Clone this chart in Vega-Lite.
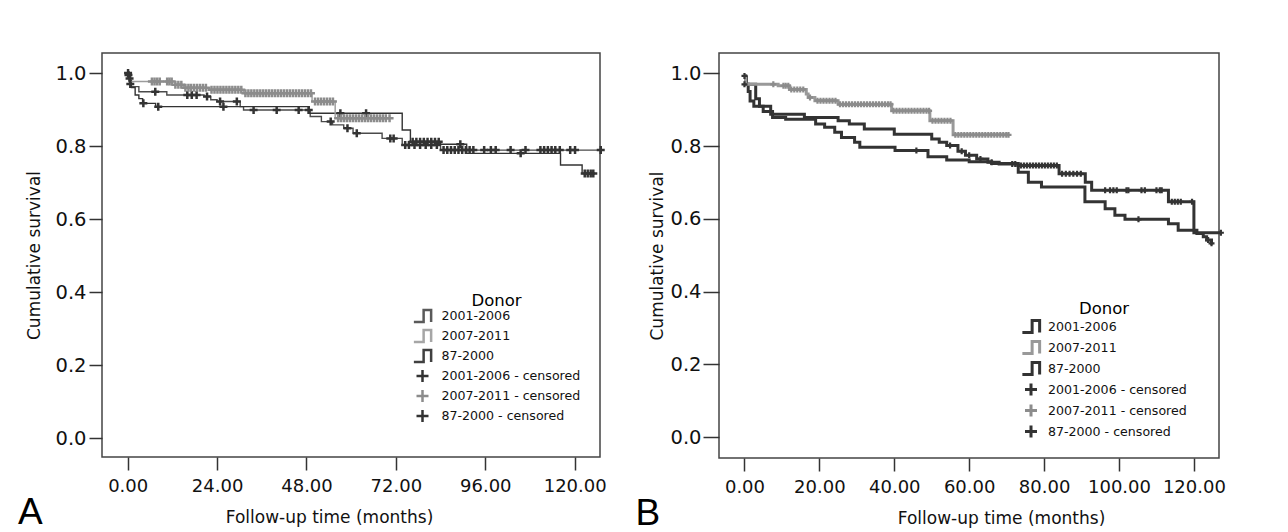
{
  "$schema": "https://vega.github.io/schema/vega-lite/v6.json",
  "background": "white",
  "autosize": {"type": "pad"},
  "padding": {"left": 17, "top": 52, "right": 0, "bottom": 0},
  "spacing": 23,
  "resolve": {"scale": {"color": "independent", "shape": "independent", "stroke": "independent", "x": "independent", "y": "independent"}, "legend": {"color": "independent", "shape": "independent"}},
  "config": {
    "view": {"stroke": "#444444", "strokeWidth": 1.5},
    "axis": {"grid": false, "domain": false, "tickColor": "#333333", "tickWidth": 1.5, "labelFont": "DejaVu Sans", "labelFontSize": 18, "labelColor": "#111111", "titleFont": "DejaVu Sans", "titleFontSize": 17, "titleFontWeight": "normal", "titleColor": "#111111", "labelFlush": false, "labelOverlap": false},
    "axisY": {"labelFontSize": 19.5},
    "legend": {"labelFont": "DejaVu Sans", "labelFontSize": 12.6, "labelColor": "#111111", "titleFont": "DejaVu Sans", "titleFontSize": 16.5, "titleFontWeight": "normal", "titleColor": "#000000", "titleAnchor": "middle", "padding": 0}
  },
  "datasets": {
    "lineA": [
      {"g": "2001-2006", "t": 0, "s": 1}, {"g": "2001-2006", "t": 0.8, "s": 0.963}, {"g": "2001-2006", "t": 3, "s": 0.949}, {"g": "2001-2006", "t": 10.5, "s": 0.94}, {"g": "2001-2006", "t": 20.5, "s": 0.936}, {"g": "2001-2006", "t": 22.3, "s": 0.927}, {"g": "2001-2006", "t": 24, "s": 0.922}, {"g": "2001-2006", "t": 30.2, "s": 0.908}, {"g": "2001-2006", "t": 31.1, "s": 0.899}, {"g": "2001-2006", "t": 49, "s": 0.881}, {"g": "2001-2006", "t": 52, "s": 0.867}, {"g": "2001-2006", "t": 55, "s": 0.858}, {"g": "2001-2006", "t": 58, "s": 0.849}, {"g": "2001-2006", "t": 60.5, "s": 0.835}, {"g": "2001-2006", "t": 68.3, "s": 0.821}, {"g": "2001-2006", "t": 73.7, "s": 0.803}, {"g": "2001-2006", "t": 84, "s": 0.789}, {"g": "2001-2006", "t": 127, "s": 0.789},
      {"g": "87-2000", "t": 0, "s": 1}, {"g": "87-2000", "t": 0.4, "s": 0.98}, {"g": "87-2000", "t": 1, "s": 0.96}, {"g": "87-2000", "t": 2, "s": 0.94}, {"g": "87-2000", "t": 3, "s": 0.93}, {"g": "87-2000", "t": 4, "s": 0.917}, {"g": "87-2000", "t": 7.5, "s": 0.908}, {"g": "87-2000", "t": 48.5, "s": 0.89}, {"g": "87-2000", "t": 73.7, "s": 0.844}, {"g": "87-2000", "t": 75.9, "s": 0.812}, {"g": "87-2000", "t": 84, "s": 0.805}, {"g": "87-2000", "t": 91, "s": 0.78}, {"g": "87-2000", "t": 116.2, "s": 0.748}, {"g": "87-2000", "t": 122, "s": 0.725}, {"g": "87-2000", "t": 125, "s": 0.725},
      {"g": "2007-2011", "t": 0, "s": 1}, {"g": "2007-2011", "t": 0.5, "s": 0.977}, {"g": "2007-2011", "t": 12, "s": 0.968}, {"g": "2007-2011", "t": 15, "s": 0.96}, {"g": "2007-2011", "t": 22, "s": 0.954}, {"g": "2007-2011", "t": 31.1, "s": 0.945}, {"g": "2007-2011", "t": 49.5, "s": 0.922}, {"g": "2007-2011", "t": 55.7, "s": 0.876}, {"g": "2007-2011", "t": 70.5, "s": 0.876}
    ],
    "censA": [
      {"k": "2001-2006 - censored", "t": 0.2, "s": 0.995}, {"k": "2001-2006 - censored", "t": 0.5, "s": 0.985}, {"k": "2001-2006 - censored", "t": 7.4, "s": 0.949}, {"k": "2001-2006 - censored", "t": 16, "s": 0.94}, {"k": "2001-2006 - censored", "t": 17.2, "s": 0.94}, {"k": "2001-2006 - censored", "t": 18.5, "s": 0.94}, {"k": "2001-2006 - censored", "t": 21.3, "s": 0.936}, {"k": "2001-2006 - censored", "t": 24.8, "s": 0.922}, {"k": "2001-2006 - censored", "t": 29.3, "s": 0.922}, {"k": "2001-2006 - censored", "t": 33.8, "s": 0.899}, {"k": "2001-2006 - censored", "t": 40, "s": 0.899}, {"k": "2001-2006 - censored", "t": 45.9, "s": 0.899}, {"k": "2001-2006 - censored", "t": 48.6, "s": 0.899}, {"k": "2001-2006 - censored", "t": 54.5, "s": 0.867}, {"k": "2001-2006 - censored", "t": 59, "s": 0.849}, {"k": "2001-2006 - censored", "t": 61.5, "s": 0.835}, {"k": "2001-2006 - censored", "t": 70.5, "s": 0.821}, {"k": "2001-2006 - censored", "t": 71.4, "s": 0.821}, {"k": "2001-2006 - censored", "t": 74.5, "s": 0.803}, {"k": "2001-2006 - censored", "t": 75.5, "s": 0.803}, {"k": "2001-2006 - censored", "t": 77, "s": 0.803}, {"k": "2001-2006 - censored", "t": 78.5, "s": 0.803}, {"k": "2001-2006 - censored", "t": 80, "s": 0.803}, {"k": "2001-2006 - censored", "t": 81.5, "s": 0.803}, {"k": "2001-2006 - censored", "t": 83, "s": 0.803}, {"k": "2001-2006 - censored", "t": 84.8, "s": 0.789}, {"k": "2001-2006 - censored", "t": 85.8, "s": 0.789}, {"k": "2001-2006 - censored", "t": 86.8, "s": 0.789}, {"k": "2001-2006 - censored", "t": 87.8, "s": 0.789}, {"k": "2001-2006 - censored", "t": 88.8, "s": 0.789}, {"k": "2001-2006 - censored", "t": 89.8, "s": 0.789}, {"k": "2001-2006 - censored", "t": 90.8, "s": 0.789}, {"k": "2001-2006 - censored", "t": 91.8, "s": 0.789}, {"k": "2001-2006 - censored", "t": 92.8, "s": 0.789}, {"k": "2001-2006 - censored", "t": 95.7, "s": 0.789}, {"k": "2001-2006 - censored", "t": 97.5, "s": 0.789}, {"k": "2001-2006 - censored", "t": 98.8, "s": 0.789}, {"k": "2001-2006 - censored", "t": 102.8, "s": 0.789}, {"k": "2001-2006 - censored", "t": 106.8, "s": 0.789}, {"k": "2001-2006 - censored", "t": 110.8, "s": 0.789}, {"k": "2001-2006 - censored", "t": 111.8, "s": 0.789}, {"k": "2001-2006 - censored", "t": 112.8, "s": 0.789}, {"k": "2001-2006 - censored", "t": 113.8, "s": 0.789}, {"k": "2001-2006 - censored", "t": 114.8, "s": 0.789}, {"k": "2001-2006 - censored", "t": 116, "s": 0.789}, {"k": "2001-2006 - censored", "t": 118.8, "s": 0.789}, {"k": "2001-2006 - censored", "t": 120.1, "s": 0.789}, {"k": "2001-2006 - censored", "t": 127, "s": 0.789},
      {"k": "87-2000 - censored", "t": 0.1, "s": 1}, {"k": "87-2000 - censored", "t": 0.7, "s": 0.97}, {"k": "87-2000 - censored", "t": 4.2, "s": 0.917}, {"k": "87-2000 - censored", "t": 8.2, "s": 0.908}, {"k": "87-2000 - censored", "t": 25.7, "s": 0.908}, {"k": "87-2000 - censored", "t": 57.1, "s": 0.89}, {"k": "87-2000 - censored", "t": 64, "s": 0.89}, {"k": "87-2000 - censored", "t": 76.5, "s": 0.812}, {"k": "87-2000 - censored", "t": 77.5, "s": 0.812}, {"k": "87-2000 - censored", "t": 78.5, "s": 0.812}, {"k": "87-2000 - censored", "t": 79.5, "s": 0.812}, {"k": "87-2000 - censored", "t": 80.5, "s": 0.812}, {"k": "87-2000 - censored", "t": 81.5, "s": 0.812}, {"k": "87-2000 - censored", "t": 82.5, "s": 0.812}, {"k": "87-2000 - censored", "t": 83.5, "s": 0.812}, {"k": "87-2000 - censored", "t": 89.3, "s": 0.805}, {"k": "87-2000 - censored", "t": 105.5, "s": 0.78}, {"k": "87-2000 - censored", "t": 122.7, "s": 0.725}, {"k": "87-2000 - censored", "t": 123.5, "s": 0.725}, {"k": "87-2000 - censored", "t": 124.3, "s": 0.725}, {"k": "87-2000 - censored", "t": 125, "s": 0.725},
      {"k": "2007-2011 - censored", "t": 6.5, "s": 0.977}, {"k": "2007-2011 - censored", "t": 7.2, "s": 0.977}, {"k": "2007-2011 - censored", "t": 7.9, "s": 0.977}, {"k": "2007-2011 - censored", "t": 8.6, "s": 0.977}, {"k": "2007-2011 - censored", "t": 10.6, "s": 0.977}, {"k": "2007-2011 - censored", "t": 11.2, "s": 0.977}, {"k": "2007-2011 - censored", "t": 11.8, "s": 0.977}, {"k": "2007-2011 - censored", "t": 12.8, "s": 0.968}, {"k": "2007-2011 - censored", "t": 13.6, "s": 0.968}, {"k": "2007-2011 - censored", "t": 14.4, "s": 0.968}, {"k": "2007-2011 - censored", "t": 15.5, "s": 0.96}, {"k": "2007-2011 - censored", "t": 16.3, "s": 0.96}, {"k": "2007-2011 - censored", "t": 17, "s": 0.96}, {"k": "2007-2011 - censored", "t": 17.8, "s": 0.96}, {"k": "2007-2011 - censored", "t": 18.6, "s": 0.96}, {"k": "2007-2011 - censored", "t": 19.4, "s": 0.96}, {"k": "2007-2011 - censored", "t": 20.2, "s": 0.96}, {"k": "2007-2011 - censored", "t": 21, "s": 0.96}, {"k": "2007-2011 - censored", "t": 22.5, "s": 0.954}, {"k": "2007-2011 - censored", "t": 23.3, "s": 0.954}, {"k": "2007-2011 - censored", "t": 24.1, "s": 0.954}, {"k": "2007-2011 - censored", "t": 24.9, "s": 0.954}, {"k": "2007-2011 - censored", "t": 25.7, "s": 0.954}, {"k": "2007-2011 - censored", "t": 26.5, "s": 0.954}, {"k": "2007-2011 - censored", "t": 27.3, "s": 0.954}, {"k": "2007-2011 - censored", "t": 28.1, "s": 0.954}, {"k": "2007-2011 - censored", "t": 28.9, "s": 0.954}, {"k": "2007-2011 - censored", "t": 29.7, "s": 0.954}, {"k": "2007-2011 - censored", "t": 30.5, "s": 0.954}, {"k": "2007-2011 - censored", "t": 31.6, "s": 0.945}, {"k": "2007-2011 - censored", "t": 32.4, "s": 0.945}, {"k": "2007-2011 - censored", "t": 33.2, "s": 0.945}, {"k": "2007-2011 - censored", "t": 34, "s": 0.945}, {"k": "2007-2011 - censored", "t": 34.8, "s": 0.945}, {"k": "2007-2011 - censored", "t": 35.6, "s": 0.945}, {"k": "2007-2011 - censored", "t": 36.4, "s": 0.945}, {"k": "2007-2011 - censored", "t": 37.2, "s": 0.945}, {"k": "2007-2011 - censored", "t": 38, "s": 0.945}, {"k": "2007-2011 - censored", "t": 38.8, "s": 0.945}, {"k": "2007-2011 - censored", "t": 39.6, "s": 0.945}, {"k": "2007-2011 - censored", "t": 40.4, "s": 0.945}, {"k": "2007-2011 - censored", "t": 41.2, "s": 0.945}, {"k": "2007-2011 - censored", "t": 42, "s": 0.945}, {"k": "2007-2011 - censored", "t": 42.8, "s": 0.945}, {"k": "2007-2011 - censored", "t": 43.6, "s": 0.945}, {"k": "2007-2011 - censored", "t": 44.4, "s": 0.945}, {"k": "2007-2011 - censored", "t": 45.2, "s": 0.945}, {"k": "2007-2011 - censored", "t": 46, "s": 0.945}, {"k": "2007-2011 - censored", "t": 46.8, "s": 0.945}, {"k": "2007-2011 - censored", "t": 47.6, "s": 0.945}, {"k": "2007-2011 - censored", "t": 48.4, "s": 0.945}, {"k": "2007-2011 - censored", "t": 49.2, "s": 0.945}, {"k": "2007-2011 - censored", "t": 50.3, "s": 0.922}, {"k": "2007-2011 - censored", "t": 51.1, "s": 0.922}, {"k": "2007-2011 - censored", "t": 51.9, "s": 0.922}, {"k": "2007-2011 - censored", "t": 52.7, "s": 0.922}, {"k": "2007-2011 - censored", "t": 53.5, "s": 0.922}, {"k": "2007-2011 - censored", "t": 54.3, "s": 0.922}, {"k": "2007-2011 - censored", "t": 55.1, "s": 0.922}, {"k": "2007-2011 - censored", "t": 56.5, "s": 0.876}, {"k": "2007-2011 - censored", "t": 57.3, "s": 0.876}, {"k": "2007-2011 - censored", "t": 58.1, "s": 0.876}, {"k": "2007-2011 - censored", "t": 58.9, "s": 0.876}, {"k": "2007-2011 - censored", "t": 59.7, "s": 0.876}, {"k": "2007-2011 - censored", "t": 60.5, "s": 0.876}, {"k": "2007-2011 - censored", "t": 61.3, "s": 0.876}, {"k": "2007-2011 - censored", "t": 62.1, "s": 0.876}, {"k": "2007-2011 - censored", "t": 62.9, "s": 0.876}, {"k": "2007-2011 - censored", "t": 63.7, "s": 0.876}, {"k": "2007-2011 - censored", "t": 64.5, "s": 0.876}, {"k": "2007-2011 - censored", "t": 65.3, "s": 0.876}, {"k": "2007-2011 - censored", "t": 66.1, "s": 0.876}, {"k": "2007-2011 - censored", "t": 66.9, "s": 0.876}, {"k": "2007-2011 - censored", "t": 67.7, "s": 0.876}, {"k": "2007-2011 - censored", "t": 68.5, "s": 0.876}, {"k": "2007-2011 - censored", "t": 69.3, "s": 0.876}, {"k": "2007-2011 - censored", "t": 70.3, "s": 0.876}
    ],
    "lineB": [
      {"g": "2001-2006", "t": 0, "s": 0.993}, {"g": "2001-2006", "t": 0.3, "s": 0.97}, {"g": "2001-2006", "t": 3, "s": 0.93}, {"g": "2001-2006", "t": 4, "s": 0.91}, {"g": "2001-2006", "t": 7, "s": 0.888}, {"g": "2001-2006", "t": 16, "s": 0.879}, {"g": "2001-2006", "t": 25, "s": 0.87}, {"g": "2001-2006", "t": 28, "s": 0.861}, {"g": "2001-2006", "t": 32, "s": 0.847}, {"g": "2001-2006", "t": 40, "s": 0.833}, {"g": "2001-2006", "t": 50, "s": 0.82}, {"g": "2001-2006", "t": 52, "s": 0.811}, {"g": "2001-2006", "t": 54, "s": 0.802}, {"g": "2001-2006", "t": 57, "s": 0.786}, {"g": "2001-2006", "t": 59, "s": 0.775}, {"g": "2001-2006", "t": 62, "s": 0.765}, {"g": "2001-2006", "t": 65, "s": 0.756}, {"g": "2001-2006", "t": 68, "s": 0.751}, {"g": "2001-2006", "t": 73, "s": 0.747}, {"g": "2001-2006", "t": 84, "s": 0.724}, {"g": "2001-2006", "t": 91, "s": 0.701}, {"g": "2001-2006", "t": 92.7, "s": 0.679}, {"g": "2001-2006", "t": 113.2, "s": 0.647}, {"g": "2001-2006", "t": 120, "s": 0.562}, {"g": "2001-2006", "t": 127.2, "s": 0.562},
      {"g": "87-2000", "t": 0, "s": 0.99}, {"g": "87-2000", "t": 0.5, "s": 0.97}, {"g": "87-2000", "t": 1, "s": 0.95}, {"g": "87-2000", "t": 1.5, "s": 0.924}, {"g": "87-2000", "t": 2.5, "s": 0.91}, {"g": "87-2000", "t": 5, "s": 0.895}, {"g": "87-2000", "t": 7.5, "s": 0.879}, {"g": "87-2000", "t": 11, "s": 0.874}, {"g": "87-2000", "t": 19, "s": 0.861}, {"g": "87-2000", "t": 21.4, "s": 0.852}, {"g": "87-2000", "t": 24.1, "s": 0.838}, {"g": "87-2000", "t": 25.9, "s": 0.824}, {"g": "87-2000", "t": 29.4, "s": 0.811}, {"g": "87-2000", "t": 30.8, "s": 0.797}, {"g": "87-2000", "t": 40.2, "s": 0.788}, {"g": "87-2000", "t": 49, "s": 0.771}, {"g": "87-2000", "t": 54, "s": 0.762}, {"g": "87-2000", "t": 60, "s": 0.757}, {"g": "87-2000", "t": 66, "s": 0.752}, {"g": "87-2000", "t": 73.1, "s": 0.728}, {"g": "87-2000", "t": 75.8, "s": 0.701}, {"g": "87-2000", "t": 79.3, "s": 0.688}, {"g": "87-2000", "t": 90.9, "s": 0.647}, {"g": "87-2000", "t": 96.3, "s": 0.628}, {"g": "87-2000", "t": 98.9, "s": 0.61}, {"g": "87-2000", "t": 101.6, "s": 0.599}, {"g": "87-2000", "t": 113.2, "s": 0.587}, {"g": "87-2000", "t": 115.8, "s": 0.569}, {"g": "87-2000", "t": 120.8, "s": 0.56}, {"g": "87-2000", "t": 122.5, "s": 0.551}, {"g": "87-2000", "t": 123.4, "s": 0.542}, {"g": "87-2000", "t": 124.7, "s": 0.533}, {"g": "87-2000", "t": 125, "s": 0.533},
      {"g": "2007-2011", "t": 0, "s": 0.993}, {"g": "2007-2011", "t": 0.3, "s": 0.97}, {"g": "2007-2011", "t": 9, "s": 0.966}, {"g": "2007-2011", "t": 12, "s": 0.956}, {"g": "2007-2011", "t": 16.5, "s": 0.943}, {"g": "2007-2011", "t": 17, "s": 0.934}, {"g": "2007-2011", "t": 18.8, "s": 0.925}, {"g": "2007-2011", "t": 25, "s": 0.915}, {"g": "2007-2011", "t": 39.3, "s": 0.897}, {"g": "2007-2011", "t": 49.5, "s": 0.87}, {"g": "2007-2011", "t": 55.7, "s": 0.831}, {"g": "2007-2011", "t": 70.5, "s": 0.831}
    ],
    "censB": [
      {"k": "2001-2006 - censored", "t": 0, "s": 0.993}, {"k": "2001-2006 - censored", "t": 54.9, "s": 0.802}, {"k": "2001-2006 - censored", "t": 58, "s": 0.786}, {"k": "2001-2006 - censored", "t": 60, "s": 0.775}, {"k": "2001-2006 - censored", "t": 63, "s": 0.765}, {"k": "2001-2006 - censored", "t": 66, "s": 0.756}, {"k": "2001-2006 - censored", "t": 71.5, "s": 0.751}, {"k": "2001-2006 - censored", "t": 72.3, "s": 0.751}, {"k": "2001-2006 - censored", "t": 73.8, "s": 0.747}, {"k": "2001-2006 - censored", "t": 74.6, "s": 0.747}, {"k": "2001-2006 - censored", "t": 75.4, "s": 0.747}, {"k": "2001-2006 - censored", "t": 76.2, "s": 0.747}, {"k": "2001-2006 - censored", "t": 77, "s": 0.747}, {"k": "2001-2006 - censored", "t": 77.8, "s": 0.747}, {"k": "2001-2006 - censored", "t": 78.6, "s": 0.747}, {"k": "2001-2006 - censored", "t": 79.4, "s": 0.747}, {"k": "2001-2006 - censored", "t": 80.2, "s": 0.747}, {"k": "2001-2006 - censored", "t": 81, "s": 0.747}, {"k": "2001-2006 - censored", "t": 81.8, "s": 0.747}, {"k": "2001-2006 - censored", "t": 82.6, "s": 0.747}, {"k": "2001-2006 - censored", "t": 83.4, "s": 0.747}, {"k": "2001-2006 - censored", "t": 84.8, "s": 0.724}, {"k": "2001-2006 - censored", "t": 85.8, "s": 0.724}, {"k": "2001-2006 - censored", "t": 86.8, "s": 0.724}, {"k": "2001-2006 - censored", "t": 87.8, "s": 0.724}, {"k": "2001-2006 - censored", "t": 88.8, "s": 0.724}, {"k": "2001-2006 - censored", "t": 89.8, "s": 0.724}, {"k": "2001-2006 - censored", "t": 96.3, "s": 0.679}, {"k": "2001-2006 - censored", "t": 97.6, "s": 0.679}, {"k": "2001-2006 - censored", "t": 98.5, "s": 0.679}, {"k": "2001-2006 - censored", "t": 99.4, "s": 0.679}, {"k": "2001-2006 - censored", "t": 102, "s": 0.679}, {"k": "2001-2006 - censored", "t": 102.5, "s": 0.679}, {"k": "2001-2006 - censored", "t": 106, "s": 0.679}, {"k": "2001-2006 - censored", "t": 106.9, "s": 0.679}, {"k": "2001-2006 - censored", "t": 110, "s": 0.679}, {"k": "2001-2006 - censored", "t": 110.9, "s": 0.679}, {"k": "2001-2006 - censored", "t": 111.4, "s": 0.679}, {"k": "2001-2006 - censored", "t": 114.1, "s": 0.647}, {"k": "2001-2006 - censored", "t": 114.9, "s": 0.647}, {"k": "2001-2006 - censored", "t": 115.7, "s": 0.647}, {"k": "2001-2006 - censored", "t": 116.5, "s": 0.647}, {"k": "2001-2006 - censored", "t": 119.5, "s": 0.647}, {"k": "2001-2006 - censored", "t": 127.2, "s": 0.562},
      {"k": "87-2000 - censored", "t": 0, "s": 0.97}, {"k": "87-2000 - censored", "t": 45.9, "s": 0.788}, {"k": "87-2000 - censored", "t": 105.2, "s": 0.599}, {"k": "87-2000 - censored", "t": 123.8, "s": 0.542}, {"k": "87-2000 - censored", "t": 124.7, "s": 0.533},
      {"k": "2007-2011 - censored", "t": 7.7, "s": 0.97}, {"k": "2007-2011 - censored", "t": 10.4, "s": 0.966}, {"k": "2007-2011 - censored", "t": 11, "s": 0.966}, {"k": "2007-2011 - censored", "t": 11.7, "s": 0.966}, {"k": "2007-2011 - censored", "t": 12.5, "s": 0.956}, {"k": "2007-2011 - censored", "t": 13.3, "s": 0.956}, {"k": "2007-2011 - censored", "t": 14.1, "s": 0.956}, {"k": "2007-2011 - censored", "t": 14.9, "s": 0.956}, {"k": "2007-2011 - censored", "t": 15.7, "s": 0.956}, {"k": "2007-2011 - censored", "t": 17.5, "s": 0.934}, {"k": "2007-2011 - censored", "t": 19.5, "s": 0.925}, {"k": "2007-2011 - censored", "t": 20.3, "s": 0.925}, {"k": "2007-2011 - censored", "t": 21.1, "s": 0.925}, {"k": "2007-2011 - censored", "t": 21.9, "s": 0.925}, {"k": "2007-2011 - censored", "t": 22.7, "s": 0.925}, {"k": "2007-2011 - censored", "t": 23.5, "s": 0.925}, {"k": "2007-2011 - censored", "t": 24.3, "s": 0.925}, {"k": "2007-2011 - censored", "t": 25.5, "s": 0.915}, {"k": "2007-2011 - censored", "t": 26.3, "s": 0.915}, {"k": "2007-2011 - censored", "t": 27.1, "s": 0.915}, {"k": "2007-2011 - censored", "t": 27.9, "s": 0.915}, {"k": "2007-2011 - censored", "t": 28.7, "s": 0.915}, {"k": "2007-2011 - censored", "t": 29.5, "s": 0.915}, {"k": "2007-2011 - censored", "t": 30.3, "s": 0.915}, {"k": "2007-2011 - censored", "t": 31.1, "s": 0.915}, {"k": "2007-2011 - censored", "t": 31.9, "s": 0.915}, {"k": "2007-2011 - censored", "t": 32.7, "s": 0.915}, {"k": "2007-2011 - censored", "t": 33.5, "s": 0.915}, {"k": "2007-2011 - censored", "t": 34.3, "s": 0.915}, {"k": "2007-2011 - censored", "t": 35.1, "s": 0.915}, {"k": "2007-2011 - censored", "t": 35.9, "s": 0.915}, {"k": "2007-2011 - censored", "t": 36.7, "s": 0.915}, {"k": "2007-2011 - censored", "t": 37.5, "s": 0.915}, {"k": "2007-2011 - censored", "t": 38.3, "s": 0.915}, {"k": "2007-2011 - censored", "t": 39, "s": 0.915}, {"k": "2007-2011 - censored", "t": 39.8, "s": 0.897}, {"k": "2007-2011 - censored", "t": 40.6, "s": 0.897}, {"k": "2007-2011 - censored", "t": 41.4, "s": 0.897}, {"k": "2007-2011 - censored", "t": 42.2, "s": 0.897}, {"k": "2007-2011 - censored", "t": 43, "s": 0.897}, {"k": "2007-2011 - censored", "t": 43.8, "s": 0.897}, {"k": "2007-2011 - censored", "t": 44.6, "s": 0.897}, {"k": "2007-2011 - censored", "t": 45.4, "s": 0.897}, {"k": "2007-2011 - censored", "t": 46.2, "s": 0.897}, {"k": "2007-2011 - censored", "t": 47, "s": 0.897}, {"k": "2007-2011 - censored", "t": 47.8, "s": 0.897}, {"k": "2007-2011 - censored", "t": 48.6, "s": 0.897}, {"k": "2007-2011 - censored", "t": 49.3, "s": 0.897}, {"k": "2007-2011 - censored", "t": 50.2, "s": 0.87}, {"k": "2007-2011 - censored", "t": 51, "s": 0.87}, {"k": "2007-2011 - censored", "t": 51.8, "s": 0.87}, {"k": "2007-2011 - censored", "t": 52.6, "s": 0.87}, {"k": "2007-2011 - censored", "t": 53.4, "s": 0.87}, {"k": "2007-2011 - censored", "t": 54.2, "s": 0.87}, {"k": "2007-2011 - censored", "t": 55, "s": 0.87}, {"k": "2007-2011 - censored", "t": 56.3, "s": 0.831}, {"k": "2007-2011 - censored", "t": 57.1, "s": 0.831}, {"k": "2007-2011 - censored", "t": 57.9, "s": 0.831}, {"k": "2007-2011 - censored", "t": 58.7, "s": 0.831}, {"k": "2007-2011 - censored", "t": 59.5, "s": 0.831}, {"k": "2007-2011 - censored", "t": 60.3, "s": 0.831}, {"k": "2007-2011 - censored", "t": 61.1, "s": 0.831}, {"k": "2007-2011 - censored", "t": 61.9, "s": 0.831}, {"k": "2007-2011 - censored", "t": 62.7, "s": 0.831}, {"k": "2007-2011 - censored", "t": 63.5, "s": 0.831}, {"k": "2007-2011 - censored", "t": 64.3, "s": 0.831}, {"k": "2007-2011 - censored", "t": 65.1, "s": 0.831}, {"k": "2007-2011 - censored", "t": 65.9, "s": 0.831}, {"k": "2007-2011 - censored", "t": 66.7, "s": 0.831}, {"k": "2007-2011 - censored", "t": 67.5, "s": 0.831}, {"k": "2007-2011 - censored", "t": 68.3, "s": 0.831}, {"k": "2007-2011 - censored", "t": 69.1, "s": 0.831}, {"k": "2007-2011 - censored", "t": 69.9, "s": 0.831}, {"k": "2007-2011 - censored", "t": 70.5, "s": 0.831}
    ]
  },
  "hconcat": [
    {
      "width": 498,
      "height": 404,
      "title": {"text": "A", "orient": "bottom", "anchor": "start", "frame": "bounds", "font": "Liberation Sans", "fontSize": 37, "fontWeight": "normal", "color": "#000000", "baseline": "alphabetic", "offset": -1, "dx": -8},
      "layer": [
        {
          "data": {"name": "lineA"},
          "mark": {"type": "line", "interpolate": "step-after", "strokeWidth": 1.4},
          "encoding": {
            "x": {"field": "t", "type": "quantitative", "scale": {"domain": [-6.9, 126.8], "nice": false, "zero": false},
              "axis": {"values": [0, 24, 48, 72, 96, 120], "format": ".2f", "tickSize": 13, "labelPadding": 7, "title": "Follow-up time (months)", "titleX": 227, "titleY": 65, "titleAlign": "center", "titleBaseline": "alphabetic"}},
            "y": {"field": "s", "type": "quantitative", "scale": {"domain": [-0.052, 1.055], "nice": false, "zero": false},
              "axis": {"values": [0, 0.2, 0.4, 0.6, 0.8, 1], "format": ".1f", "tickSize": 13, "labelPadding": 3, "title": "Cumulative survival", "titlePadding": 11}},
            "stroke": {"field": "g", "type": "nominal", "scale": {"domain": ["2001-2006", "2007-2011", "87-2000"], "range": ["#4a4a4a", "#9c9c9c", "#333333"]}, "legend": null}
          }
        },
        {
          "data": {"name": "censA"},
          "mark": {"type": "point", "filled": false, "size": 100, "strokeWidth": 2.5, "opacity": 1},
          "encoding": {
            "x": {"field": "t", "type": "quantitative"},
            "y": {"field": "s", "type": "quantitative"},
            "color": {"field": "k", "type": "nominal",
              "scale": {"domain": ["2001-2006", "2007-2011", "87-2000", "2001-2006 - censored", "2007-2011 - censored", "87-2000 - censored"], "range": ["#5a5a5a", "#a6a6a6", "#404040", "#333333", "#8c8c8c", "#333333"]},
              "legend": {"title": "Donor", "orient": "none", "legendX": 311.5, "legendY": 239.5, "titlePadding": -2, "symbolSize": 225, "symbolStrokeWidth": 2.5, "rowPadding": -6, "labelOffset": 10}},
            "shape": {"field": "k", "type": "nominal",
              "scale": {"domain": ["2001-2006", "2007-2011", "87-2000", "2001-2006 - censored", "2007-2011 - censored", "87-2000 - censored"], "range": ["M-1.15,0.8H0.15V-0.8H1.15V0.8", "M-1.15,0.8H0.15V-0.8H1.15V0.8", "M-1.15,0.8H0.15V-0.8H1.15V0.8", "M-0.8,0H0.8M0,-0.8V0.8", "M-0.8,0H0.8M0,-0.8V0.8", "M-0.8,0H0.8M0,-0.8V0.8"]},
              "legend": {"title": "Donor", "orient": "none", "legendX": 311.5, "legendY": 239.5, "titlePadding": -2, "symbolSize": 225, "symbolStrokeWidth": 2.5, "rowPadding": -6, "labelOffset": 10}}
          }
        }
      ]
    },
    {
      "width": 500,
      "height": 405,
      "title": {"text": "B", "orient": "bottom", "anchor": "start", "frame": "bounds", "font": "Liberation Sans", "fontSize": 37, "fontWeight": "normal", "color": "#000000", "baseline": "alphabetic", "offset": -1, "dx": -13},
      "layer": [
        {
          "data": {"name": "lineB"},
          "mark": {"type": "line", "interpolate": "step-after", "strokeWidth": 3},
          "encoding": {
            "x": {"field": "t", "type": "quantitative", "scale": {"domain": [-6.8, 126.7], "nice": false, "zero": false},
              "axis": {"values": [0, 20, 40, 60, 80, 100, 120], "format": ".2f", "tickSize": 13, "labelPadding": 7, "title": "Follow-up time (months)", "titleX": 282, "titleY": 65, "titleAlign": "center", "titleBaseline": "alphabetic"}},
            "y": {"field": "s", "type": "quantitative", "scale": {"domain": [-0.057, 1.056], "nice": false, "zero": false},
              "axis": {"values": [0, 0.2, 0.4, 0.6, 0.8, 1], "format": ".1f", "tickSize": 16, "labelPadding": 2, "title": "Cumulative survival", "titlePadding": 3.5}},
            "stroke": {"field": "g", "type": "nominal", "scale": {"domain": ["2001-2006", "2007-2011", "87-2000"], "range": ["#333333", "#999999", "#333333"]}, "legend": null}
          }
        },
        {
          "data": {"name": "censB"},
          "mark": {"type": "point", "filled": false, "size": 56, "strokeWidth": 2.2, "opacity": 1},
          "encoding": {
            "x": {"field": "t", "type": "quantitative"},
            "y": {"field": "s", "type": "quantitative"},
            "color": {"field": "k", "type": "nominal",
              "scale": {"domain": ["2001-2006", "2007-2011", "87-2000", "2001-2006 - censored", "2007-2011 - censored", "87-2000 - censored"], "range": ["#333333", "#999999", "#333333", "#333333", "#8c8c8c", "#333333"]},
              "legend": {"title": "Donor", "orient": "none", "legendX": 303, "legendY": 248, "titlePadding": 0, "symbolSize": 225, "symbolStrokeWidth": 3, "rowPadding": -12, "labelOffset": 8}},
            "shape": {"field": "k", "type": "nominal",
              "scale": {"domain": ["2001-2006", "2007-2011", "87-2000", "2001-2006 - censored", "2007-2011 - censored", "87-2000 - censored"], "range": ["M-1.15,0.8H0.15V-0.8H1.15V0.8", "M-1.15,0.8H0.15V-0.8H1.15V0.8", "M-1.15,0.8H0.15V-0.8H1.15V0.8", "M-0.8,0H0.8M0,-0.8V0.8", "M-0.8,0H0.8M0,-0.8V0.8", "M-0.8,0H0.8M0,-0.8V0.8"]},
              "legend": {"title": "Donor", "orient": "none", "legendX": 303, "legendY": 248, "titlePadding": 0, "symbolSize": 225, "symbolStrokeWidth": 3, "rowPadding": -12, "labelOffset": 8}}
          }
        }
      ]
    }
  ]
}
